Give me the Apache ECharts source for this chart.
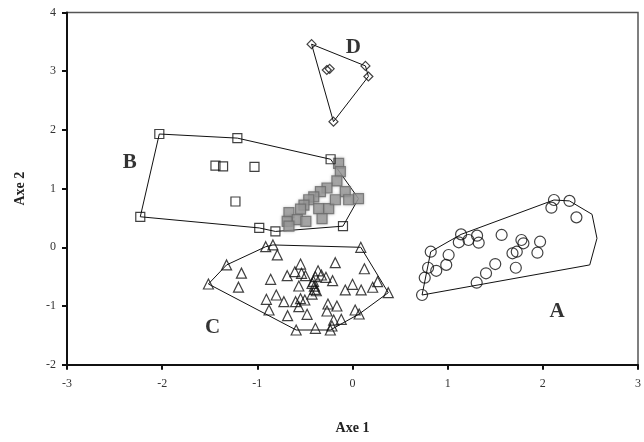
<!DOCTYPE html>
<html>
<head>
<meta charset="utf-8">
<script src="https://cdn.jsdelivr.net/npm/echarts@6/dist/echarts.min.js"></script>
<style>
  html, body { margin: 0; padding: 0; background: #fff; }
  #chart { width: 644px; height: 442px; }
</style>
</head>
<body>
<div id="chart"></div>
<script>
// Group A — circles
const groupA = [
  [2.117, 0.806], [2.28, 0.79], [2.09, 0.675], [2.353, 0.51],
  [1.141, 0.22], [1.117, 0.085], [1.219, 0.124], [1.309, 0.198], [1.326, 0.078],
  [1.567, 0.21], [1.775, 0.124], [1.796, 0.068], [1.971, 0.095], [1.943, -0.092],
  [1.726, -0.075], [1.681, -0.102], [0.822, -0.075], [1.01, -0.131], [0.985, -0.30],
  [0.794, -0.348], [0.88, -0.40], [1.50, -0.285], [1.403, -0.443], [1.716, -0.348],
  [0.759, -0.518], [1.305, -0.603], [0.731, -0.813]
];
const hullA = [
  [0.731, -0.813], [0.822, -0.075], [1.141, 0.22], [2.117, 0.806], [2.28, 0.79],
  [2.517, 0.562], [2.569, 0.153], [2.493, -0.30], [0.731, -0.813]
];

// Group B — open squares
const groupB = [
  [-2.03, 1.93], [-1.21, 1.86], [-0.23, 1.50], [-1.44, 1.39], [-1.36, 1.38],
  [-1.03, 1.37], [-1.23, 0.78], [-2.23, 0.52], [-0.98, 0.33], [-0.81, 0.27], [-0.10, 0.36]
];
// Group B — shaded squares
const groupBShaded = [
  [-0.146, 1.43], [-0.128, 1.29], [-0.164, 1.13], [-0.268, 1.01], [-0.337, 0.95],
  [-0.407, 0.86], [-0.46, 0.81], [-0.51, 0.72], [-0.546, 0.65], [-0.668, 0.59],
  [-0.686, 0.44], [-0.58, 0.47], [-0.668, 0.36], [-0.355, 0.66], [-0.25, 0.66],
  [-0.32, 0.49], [-0.076, 0.95], [-0.04, 0.81], [0.063, 0.83], [-0.18, 0.81], [-0.49, 0.44]
];
const hullB = [
  [-2.03, 1.93], [-1.21, 1.86], [-0.23, 1.50], [0.063, 0.83], [-0.10, 0.36],
  [-0.81, 0.27], [-0.98, 0.33], [-2.23, 0.52], [-2.03, 1.93]
];

// Group C — triangles
const groupC = [
  [-0.912, 0.01], [-0.836, 0.04], [0.087, 0.0], [-0.79, -0.13], [-1.323, -0.30],
  [-1.167, -0.44], [-1.198, -0.68], [-1.514, -0.625], [-0.86, -0.545], [-0.686, -0.484],
  [-0.546, -0.285], [-0.606, -0.416], [-0.536, -0.443], [-0.494, -0.484], [-0.362, -0.40],
  [-0.327, -0.472], [-0.279, -0.511], [-0.39, -0.50], [-0.209, -0.569], [-0.181, -0.262],
  [0.125, -0.365], [0.264, -0.586], [0.0, -0.63], [-0.076, -0.727], [0.091, -0.727],
  [0.212, -0.681], [0.376, -0.773], [-0.425, -0.613], [-0.397, -0.716], [-0.425, -0.796],
  [-0.564, -0.659], [-0.501, -0.898], [-0.546, -0.876], [-0.598, -0.927], [-0.721, -0.927],
  [-0.801, -0.813], [-0.905, -0.886], [-0.877, -1.068], [-0.682, -1.165], [-0.564, -1.012],
  [-0.477, -1.141], [-0.258, -0.966], [-0.164, -1.0], [-0.268, -1.085], [0.028, -1.068],
  [0.07, -1.136], [-0.118, -1.227], [-0.198, -1.239], [-0.216, -1.341], [-0.39, -1.38],
  [-0.592, -1.409], [-0.233, -1.409],
  [-0.41, -0.58], [-0.40, -0.66], [-0.38, -0.74]
];
const hullC = [
  [-1.514, -0.625], [-1.323, -0.30], [-0.912, 0.01], [-0.836, 0.04], [0.087, 0.0],
  [0.376, -0.773], [0.07, -1.136], [-0.233, -1.409], [-0.592, -1.409], [-1.514, -0.625]
];

// Group D — diamonds
const groupD = [
  [-0.43, 3.46], [-0.27, 3.02], [-0.24, 3.04], [0.136, 3.09], [0.167, 2.91], [-0.20, 2.14]
];
const hullD = [
  [-0.43, 3.46], [0.136, 3.09], [0.167, 2.91], [-0.20, 2.14], [-0.43, 3.46]
];

// Group letters: [x, y, text]
const groupLetters = [
  [2.15, -1.10, 'A'], [-2.34, 1.44, 'B'], [-1.47, -1.37, 'C'], [0.01, 3.41, 'D']
];

const xTicks = { min: -3, max: 3, interval: 1 };
const yTicks = { min: -2, max: 4, interval: 1 };

const SERIF = '"Liberation Serif", "DejaVu Serif", serif';

function hull(data) {
  return {
    type: 'line', data: data, symbol: 'none', silent: true,
    lineStyle: { color: '#111', width: 1 }, z: 2
  };
}
function open(data, symbol, size) {
  return {
    type: 'scatter', data: data, symbol: symbol, symbolSize: size, z: 3,
    itemStyle: { color: 'rgba(0,0,0,0)', borderColor: '#111', borderWidth: 1.2 }
  };
}

const chart = echarts.init(document.getElementById('chart'), null, { renderer: 'canvas' });
chart.setOption({
  animation: false,
  backgroundColor: '#fff',
  grid: {
    left: 67, right: 2.5, top: 12.5, bottom: 77.3,
    show: true, borderColor: '#555', borderWidth: 1.5, backgroundColor: 'transparent'
  },
  xAxis: {
    type: 'value', min: xTicks.min, max: xTicks.max, interval: xTicks.interval,
    name: 'Axe 1', nameLocation: 'middle', nameGap: 57,
    nameTextStyle: { fontFamily: SERIF, fontWeight: 'bold', fontSize: 14, color: '#222' },
    axisLine: { onZero: false, lineStyle: { color: '#111', width: 2 } },
    axisTick: { inside: false, length: 5, lineStyle: { color: '#111', width: 2 } },
    axisLabel: { margin: 13, fontFamily: SERIF, fontSize: 12, color: '#333' },
    splitLine: { show: false }
  },
  yAxis: {
    type: 'value', min: yTicks.min, max: yTicks.max, interval: yTicks.interval,
    name: 'Axe 2', nameLocation: 'middle', nameGap: 40, nameRotate: 90,
    nameTextStyle: { fontFamily: SERIF, fontWeight: 'bold', fontSize: 14, color: '#222' },
    axisLine: { onZero: false, lineStyle: { color: '#111', width: 2 } },
    axisTick: { inside: false, length: 5, lineStyle: { color: '#111', width: 2 } },
    axisLabel: { margin: 11, fontFamily: SERIF, fontSize: 12, color: '#333' },
    splitLine: { show: false }
  },
  series: [
    hull(hullA), hull(hullB), hull(hullC), hull(hullD),
    {
      type: 'scatter', data: groupBShaded, symbol: 'rect', symbolSize: 10, z: 3,
      itemStyle: { color: '#9b9b9b', borderColor: '#6a6a6a', borderWidth: 1.2,
                   shadowBlur: 3, shadowColor: 'rgba(120,120,120,0.5)' }
    },
    open(groupA, 'circle', 11),
    open(groupB, 'rect', 9),
    open(groupC, 'triangle', 10),
    open(groupD, 'diamond', 9),
    {
      type: 'scatter', data: groupLetters, symbolSize: 0, z: 4, silent: true,
      label: {
        show: true, position: 'inside',
        formatter: p => p.data[2],
        fontFamily: SERIF, fontWeight: 'bold', fontSize: 21, color: '#000'
      }
    }
  ]
});
</script>
</body>
</html>
